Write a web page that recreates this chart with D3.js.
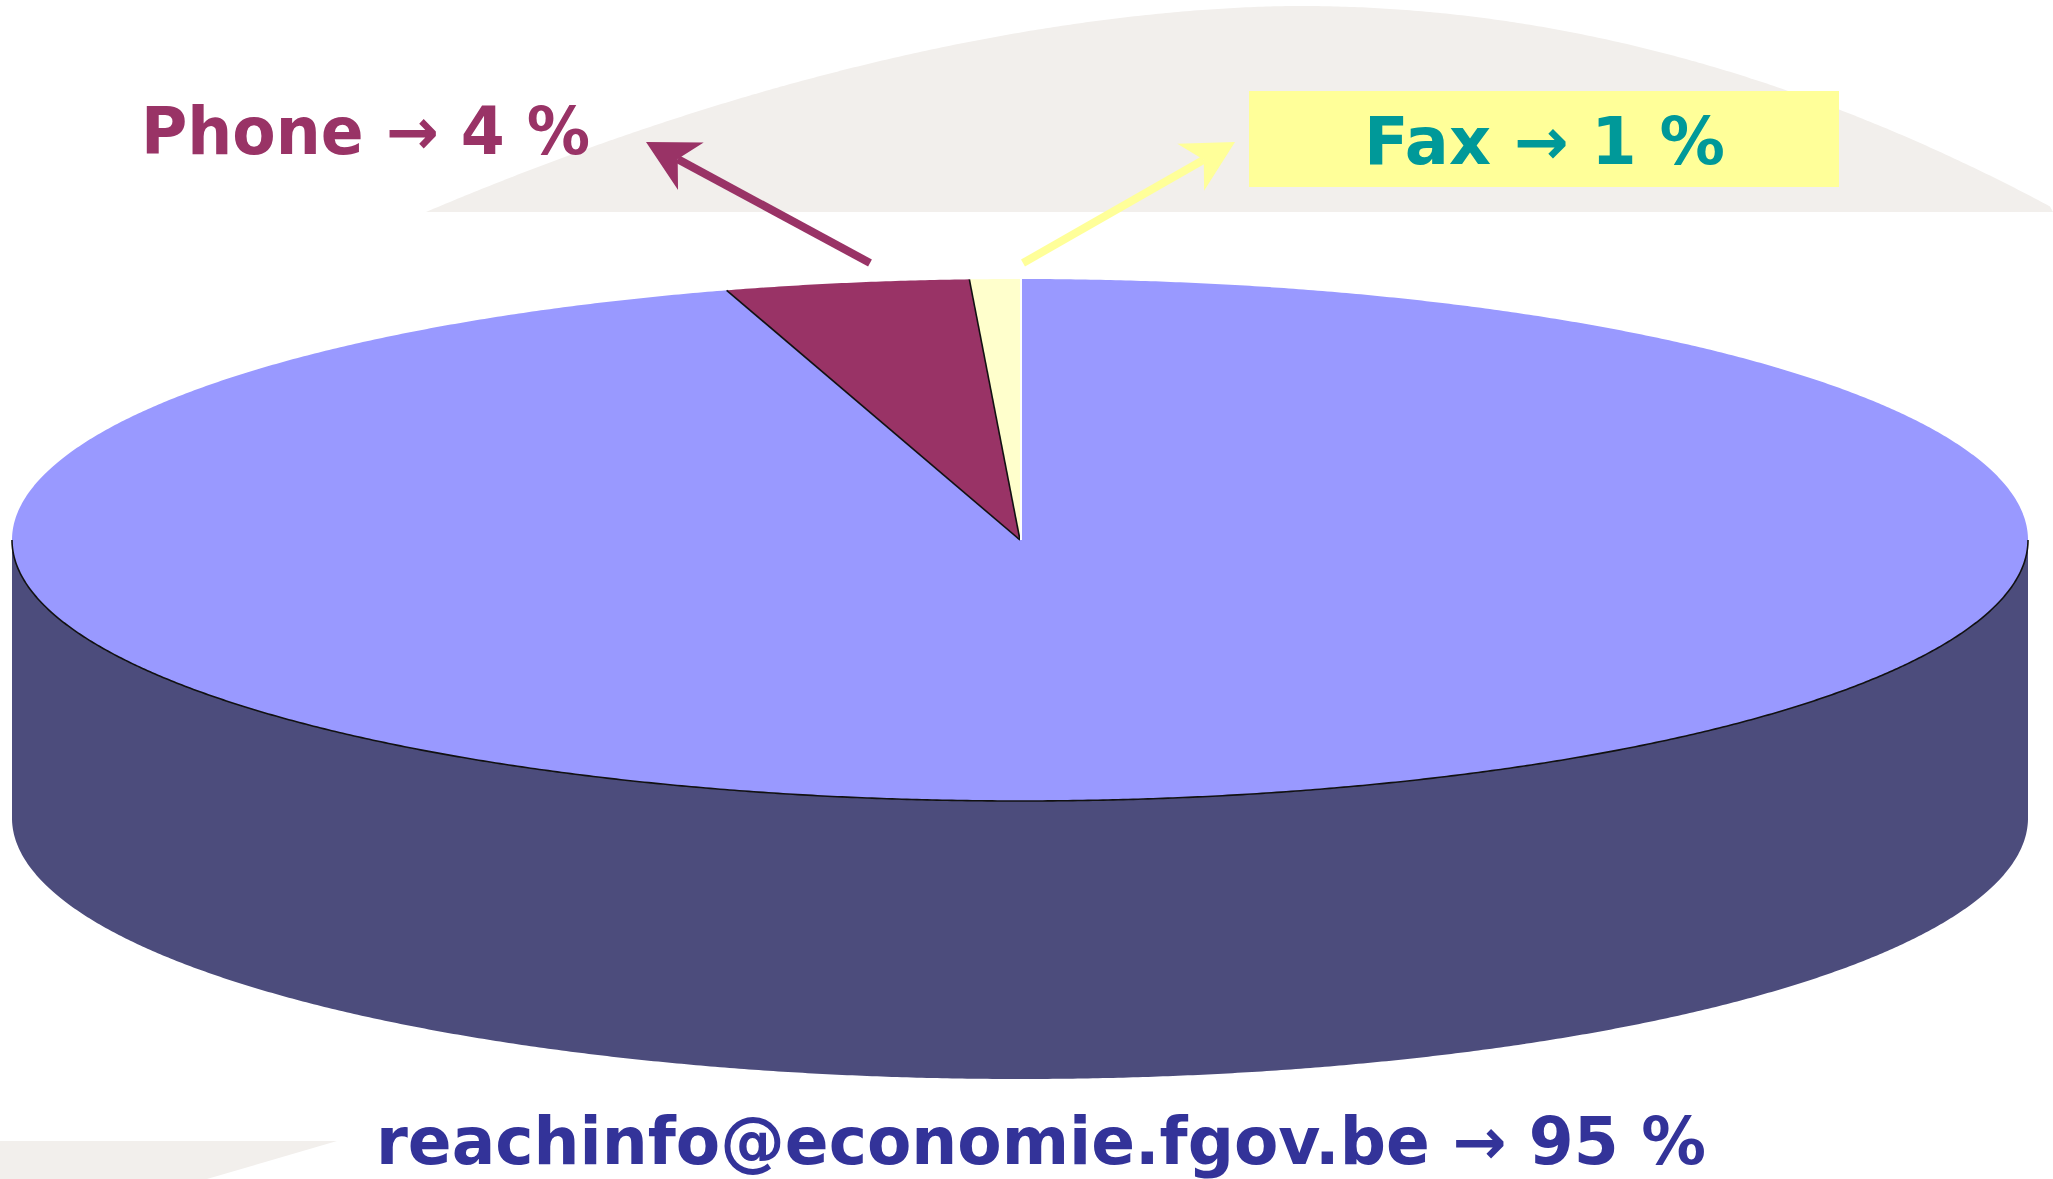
<!DOCTYPE html>
<html>
<head>
<meta charset="utf-8">
<script src="https://cdn.jsdelivr.net/npm/d3@7"></script>
<style>
  html, body { margin: 0; padding: 0; background: #ffffff; overflow: hidden; }
  svg { display: block; }
  text { font-family: "DejaVu Sans", Verdana, sans-serif; font-weight: bold; }
</style>
</head>
<body>
<svg id="chart" width="2053" height="1179"></svg>
<script>
// ---- data ----
const categories = ["reachinfo@economie.fgov.be", "Phone", "Fax"];
const values = [95.3, 3.9, 0.8];            // share of questions (%) as drawn
const percentLabels = ["95 %", "4 %", "1 %"];  // rounded labels shown
const topColors = ["#9999FF", "#993366", "#FFFFCC"];
const sideColors = ["#4C4C7C", "#5C1F3D", "#99997A"];
const labelColors = ["#333399", "#993366", "#009999"];

// ---- layout ----
const W = 2053, H = 1179;
const cx = 1020, cy = 540, rx = 1008, ry = 261, depth = 278;
const svg = d3.select("#chart");

// background decoration (beige dome and bottom band)
const domeLeft = 426, domePeakX = 1300, domeRight = 2053, domeTop = 6, domeBase = 212;
const domeY = x => x < domePeakX
  ? domeTop + (domeBase - domeTop) * Math.pow((domePeakX - x) / (domePeakX - domeLeft), 1.8)
  : domeTop + (domeBase - 4 - domeTop) * Math.pow((x - domePeakX) / (domeRight - domePeakX), 2);
const domePts = d3.range(domeLeft, domeRight + 1, 4).map(x => [x, domeY(x)]);
svg.append("path")
  .attr("d", d3.line()(domePts) + `L${domeRight},${domeBase}L${domeLeft},${domeBase}Z`)
  .attr("fill", "#F2EFEC");
svg.append("path")
  .attr("d", d3.line()([[0,1141],[337,1141],[207,1179],[0,1179]]) + "Z")
  .attr("fill", "#F2EFEC");

// ---- pie ----
const pie = d3.pie().sort(null).startAngle(0).endAngle(2 * Math.PI);
const arcs = pie(values);
const pt = (a, dy = 0) => [cx + rx * Math.sin(a), cy - ry * Math.cos(a) + dy];
const sample = (a0, a1) => {
  const n = Math.max(2, Math.ceil(Math.abs(a1 - a0) / 0.005));
  return d3.range(n + 1).map(i => a0 + (a1 - a0) * i / n);
};
const line = d3.line();

// side faces (front half only: angles between PI/2 and 3PI/2)
arcs.forEach((d, i) => {
  const s = Math.max(d.startAngle, Math.PI / 2);
  const e = Math.min(d.endAngle, 3 * Math.PI / 2);
  if (e <= s) return;
  const topEdge = sample(s, e).map(a => pt(a));
  const bottomEdge = sample(s, e).reverse().map(a => pt(a, depth));
  svg.append("path")
    .attr("d", line(topEdge.concat(bottomEdge)) + "Z")
    .attr("fill", sideColors[i]);
});

// top faces
arcs.forEach((d, i) => {
  const pts = [[cx, cy]].concat(sample(d.startAngle, d.endAngle).map(a => pt(a)));
  svg.append("path")
    .attr("d", line(pts) + "Z")
    .attr("fill", topColors[i]);
});

// front rim line between top and side
svg.append("path")
  .attr("d", line(sample(Math.PI / 2, 3 * Math.PI / 2).map(a => pt(a))))
  .attr("fill", "none").attr("stroke", "#111111").attr("stroke-width", 1.6);

// radial edges of the phone slice (dark) and the 12 o'clock seam (white)
const phone = arcs[1];
[phone.startAngle, phone.endAngle].forEach(a => {
  svg.append("path").attr("d", line([[cx, cy], pt(a)]))
    .attr("stroke", "#111111").attr("stroke-width", 1.6).attr("fill", "none");
});
svg.append("path").attr("d", line([[cx + 1, cy], [cx + 1, cy - ry]]))
  .attr("stroke", "#ffffff").attr("stroke-width", 2).attr("fill", "none");

// ---- arrows ----
function arrow(start, tip, color) {
  const dx = start[0] - tip[0], dy = start[1] - tip[1];
  const L = Math.hypot(dx, dy), ux = dx / L, uy = dy / L;
  const px = -uy, py = ux;
  const headLen = 51, halfW = 27, notch = 36;
  const c1 = [tip[0] + ux * headLen + px * halfW, tip[1] + uy * headLen + py * halfW];
  const c2 = [tip[0] + ux * headLen - px * halfW, tip[1] + uy * headLen - py * halfW];
  const nb = [tip[0] + ux * notch, tip[1] + uy * notch];
  svg.append("path").attr("d", line([start, nb]))
    .attr("stroke", color).attr("stroke-width", 8).attr("fill", "none");
  svg.append("path").attr("d", line([tip, c1, nb, c2]) + "Z").attr("fill", color);
}
arrow([870, 263], [646, 142], topColors[1]);
arrow([1023, 263], [1235, 142], "#FFFF99");

// ---- labels ----
svg.append("rect").attr("x", 1249).attr("y", 91).attr("width", 590).attr("height", 96)
  .attr("fill", "#FFFF99");

svg.append("text").attr("x", 141).attr("y", 154)
  .attr("font-size", 65).attr("fill", labelColors[1])
  .attr("textLength", 449).attr("lengthAdjust", "spacingAndGlyphs")
  .text(categories[1] + " \u2192 " + percentLabels[1]);

svg.append("text").attr("x", 1364).attr("y", 164)
  .attr("font-size", 65).attr("fill", labelColors[2])
  .attr("textLength", 361).attr("lengthAdjust", "spacingAndGlyphs")
  .text(categories[2] + " \u2192 " + percentLabels[2]);

svg.append("text").attr("x", 376).attr("y", 1164)
  .attr("font-size", 65).attr("fill", labelColors[0])
  .attr("textLength", 1330).attr("lengthAdjust", "spacingAndGlyphs")
  .text(categories[0] + " \u2192 " + percentLabels[0]);
</script>
</body>
</html>
